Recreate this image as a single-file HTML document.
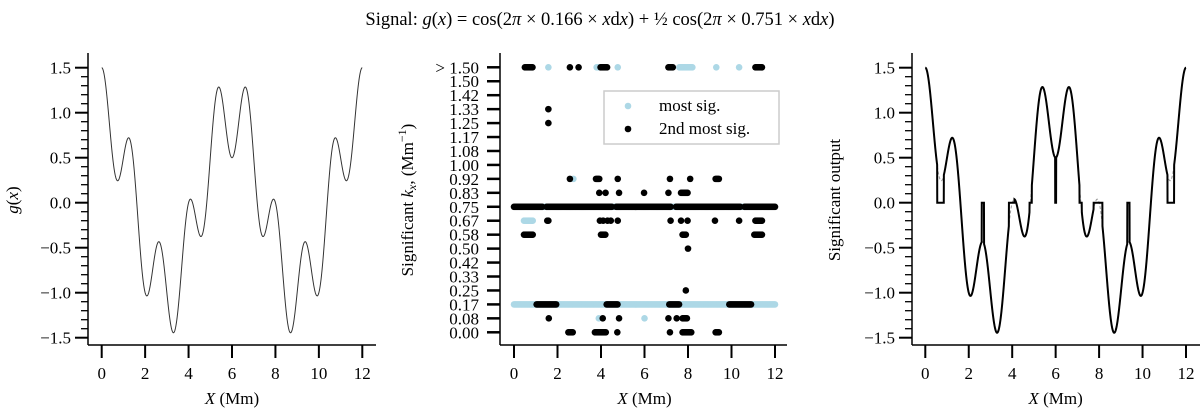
<!DOCTYPE html>
<html><head><meta charset="utf-8"><style>
body{margin:0;background:#fff}
svg{display:block;font-family:"Liberation Serif",serif}
</style></head><body>
<svg id="c" width="1200" height="409" viewBox="0 0 1200 409">
<text x="600" y="25" text-anchor="middle" font-size="18.5">Signal:  <tspan font-style="italic">g</tspan>(<tspan font-style="italic">x</tspan>) = cos(2<tspan font-style="italic">π</tspan> × 0.166 × <tspan font-style="italic">x</tspan>d<tspan font-style="italic">x</tspan>) + ½ cos(2<tspan font-style="italic">π</tspan> × 0.751 × <tspan font-style="italic">x</tspan>d<tspan font-style="italic">x</tspan>)</text>
</svg>
<script>
// signal parameters (effective grid frequencies)
const freqs=[0.16667,0.75];
const amps=[1,0.5];
// intervals where significant output is zero
const zeroRuns=[[0.55,0.85],[2.6,2.7],[3.85,4.1],[4.8,4.9],[5.98,6.02],[7.1,7.2],[7.75,8.15],[9.3,9.4],[11.15,11.45]];
const xTicks=[0,2,4,6,8,10,12];
const gTicks=[-1.5,-1.0,-0.5,0.0,0.5,1.0,1.5];
const kLabels=["0.00","0.08","0.17","0.25","0.33","0.42","0.50","0.58","0.67","0.75","0.83","0.92","1.00","1.08","1.17","1.25","1.33","1.42","1.50","> 1.50"];
// scatter: each entry [level index, x start, x end]
const mostSig=[[19,1.58,1.58],[19,3.8,3.9],[19,4.77,4.77],[19,7.6,8.2],[19,9.3,9.3],[19,10.35,10.35],
[11,2.73,2.73],[9,1.35,1.45],[9,4.55,4.65],[9,7.25,7.4],[9,10.45,10.55],[8,0.46,0.9],[2,0,12],[1,3.9,3.9],[1,6.0,6.0]];
const secondSig=[[19,0.5,0.86],[19,2.57,2.57],[19,2.97,2.97],[19,3.98,4.3],[19,7.1,7.3],[19,11.1,11.4],
[16,1.58,1.58],[15,1.58,1.58],
[11,2.57,2.57],[11,3.77,3.95],[11,4.77,4.77],[11,7.17,7.17],[11,8.1,8.1],[11,9.27,9.44],
[10,3.92,3.92],[10,4.21,4.21],[10,4.83,4.83],[10,5.98,5.98],[10,7.1,7.1],[10,7.68,8.0],
[9,0,1.3],[9,1.5,4.5],[9,4.7,7.2],[9,7.45,10.4],[9,10.6,12],
[8,1.53,1.6],[8,3.95,3.95],[8,4.1,4.1],[8,4.3,4.3],[8,4.45,4.45],[8,4.77,4.77],[8,7.2,7.2],[8,7.68,7.68],[8,7.98,7.98],[8,9.24,9.24],[8,10.35,10.35],[8,11.1,11.4],
[7,0.46,0.89],[7,4.0,4.2],[7,7.75,7.9],[7,11.05,11.4],[6,8.0,8.0],[3,7.9,7.9],
[2,1.04,1.96],[2,4.26,4.8],[2,7.14,7.63],[2,9.9,10.9],
[1,1.6,1.6],[1,4.08,4.08],[1,4.83,4.83],[1,7.1,7.1],[1,7.48,7.48],[1,7.75,7.98],
[0,2.5,2.73],[0,3.72,4.26],[0,4.75,4.75],[0,7.17,7.17],[0,7.75,8.17],[0,9.27,9.44]];

const NS="http://www.w3.org/2000/svg",svg=document.getElementById('c');
function el(t,a,p){const e=document.createElementNS(NS,t);for(const k in a)e.setAttribute(k,a[k]);(p||svg).appendChild(e);return e;}
function g(x){let s=0;for(let i=0;i<freqs.length;i++)s+=amps[i]*Math.cos(2*Math.PI*freqs[i]*x);return s;}
function sig(x){for(const r of zeroRuns)if(x>=r[0]&&x<=r[1])return 0;return g(x);}
const FS=17;
function axes(P,name){
 const grp=el('g',{});
 
 
 el('line',{x1:P.l,y1:53,x2:P.l,y2:345,stroke:'#000','stroke-width':1.5},grp);
 el('line',{x1:P.l,y1:345,x2:P.r,y2:345,stroke:'#000','stroke-width':1.5},grp);
 for(const t of xTicks){const x=P.sx(t);
  const tk=el('line',{x1:x,y1:345,x2:x,y2:358,stroke:'#000','stroke-width':2},grp);
  
  
  const tl=el('text',{x:x,y:379,'text-anchor':'middle','font-size':FS},grp);tl.textContent=t;
  
  }
 const xt=el('text',{x:(P.sx(0)+P.sx(12))/2,y:404,'text-anchor':'middle','font-size':FS},grp);
 xt.innerHTML='<tspan font-style="italic">X</tspan> (Mm)';
 
 
 return grp;
}
function gAxis(P,grp){
 for(let v=-1.5;v<=1.501;v+=0.1){const y=P.sy(v);const major=Math.abs(v*2-Math.round(v*2))<1e-6;
  el('line',{x1:P.l-(major?13:7),y1:y,x2:P.l,y2:y,stroke:'#000','stroke-width':major?2:1.3},grp);}
 for(const t of gTicks){const tl=el('text',{x:P.l-17,y:P.sy(t)+6,'text-anchor':'end','font-size':FS},grp);
  tl.textContent=(t<0?'−':'')+Math.abs(t).toFixed(1);
  
  }
}
// left panel
const L={l:88,r:376,sx:x=>101.7+x*(362.3-101.7)/12,sy:v=>202.7-v*90};
const gl=axes(L,'left-panel');gAxis(L,gl);
let d='';for(let i=0;i<=1200;i++){const x=i/100;d+=(i?'L':'M')+L.sx(x).toFixed(2)+','+L.sy(g(x)).toFixed(2);}
const c1=el('path',{d:d,fill:'none',stroke:'#333','stroke-width':1},gl);


const yl1=el('text',{transform:'translate(18,200) rotate(-90)','text-anchor':'middle','font-size':FS},gl);
yl1.innerHTML='<tspan font-style="italic">g</tspan>(<tspan font-style="italic">x</tspan>)';



// middle panel
const M={l:500,r:787,sx:x=>514+x*(775-514)/12,sy:k=>332.3-k*(332.3-67.3)/19};
const gm=axes(M,'middle-panel');
kLabels.forEach((s,i)=>{const y=M.sy(i);
 el('line',{x1:M.l-13,y1:y,x2:M.l,y2:y,stroke:'#000','stroke-width':2.5},gm);
 const tl=el('text',{x:479,y:y+6,'text-anchor':'end','font-size':FS},gm);tl.textContent=s;
 
 });
const yl2=el('text',{transform:'translate(413,200) rotate(-90)','text-anchor':'middle','font-size':FS},gm);
yl2.innerHTML='Significant <tspan font-style="italic">k</tspan><tspan font-style="italic" font-size="12" dy="3">x</tspan><tspan dy="-3">,  (Mm</tspan><tspan font-size="12" dy="-7">−1</tspan><tspan dy="7">)</tspan>';


function scatter(arr,col,name){for(const [lv,a,b] of arr){for(let x=a;x<=b+1e-9;x+=0.05){
 const p=el('circle',{cx:M.sx(x),cy:M.sy(lv),r:3.3,fill:col},gm);
 
 }}}
scatter(mostSig,'#add8e6','most-sig-point');
scatter(secondSig,'#000','second-sig-point');
const lg=el('g',{},gm);


el('rect',{x:604,y:91,width:175,height:53,fill:'rgba(255,255,255,0.8)',stroke:'#ccc','stroke-width':1.5},lg);
el('circle',{cx:628,cy:106,r:3.3,fill:'#add8e6'},lg);
el('circle',{cx:628,cy:129,r:3.3,fill:'#000'},lg);
const t1=el('text',{x:659,y:111,'font-size':FS},lg);t1.textContent='most sig.';


const t2=el('text',{x:659,y:134,'font-size':FS},lg);t2.textContent='2nd most sig.';



// right panel
const R={l:912,r:1200,sx:x=>925.3+x*(1186-925.3)/12,sy:v=>202.7-v*90};
const gr=axes(R,'right-panel');gAxis(R,gr);
let d2='',d3='';for(let i=0;i<=2400;i++){const x=i/200;d2+=(i?'L':'M')+R.sx(x).toFixed(2)+','+R.sy(g(x)).toFixed(2);d3+=(i?'L':'M')+R.sx(x).toFixed(2)+','+R.sy(sig(x)).toFixed(2);}
const c2=el('path',{d:d2,fill:'none',stroke:'#999','stroke-width':1,'stroke-dasharray':'3,2'},gr);


const c3=el('path',{d:d3,fill:'none',stroke:'#000','stroke-width':2},gr);


const yl3=el('text',{transform:'translate(840,200) rotate(-90)','text-anchor':'middle','font-size':FS},gr);
yl3.textContent='Significant output';


</script>
</body></html>
